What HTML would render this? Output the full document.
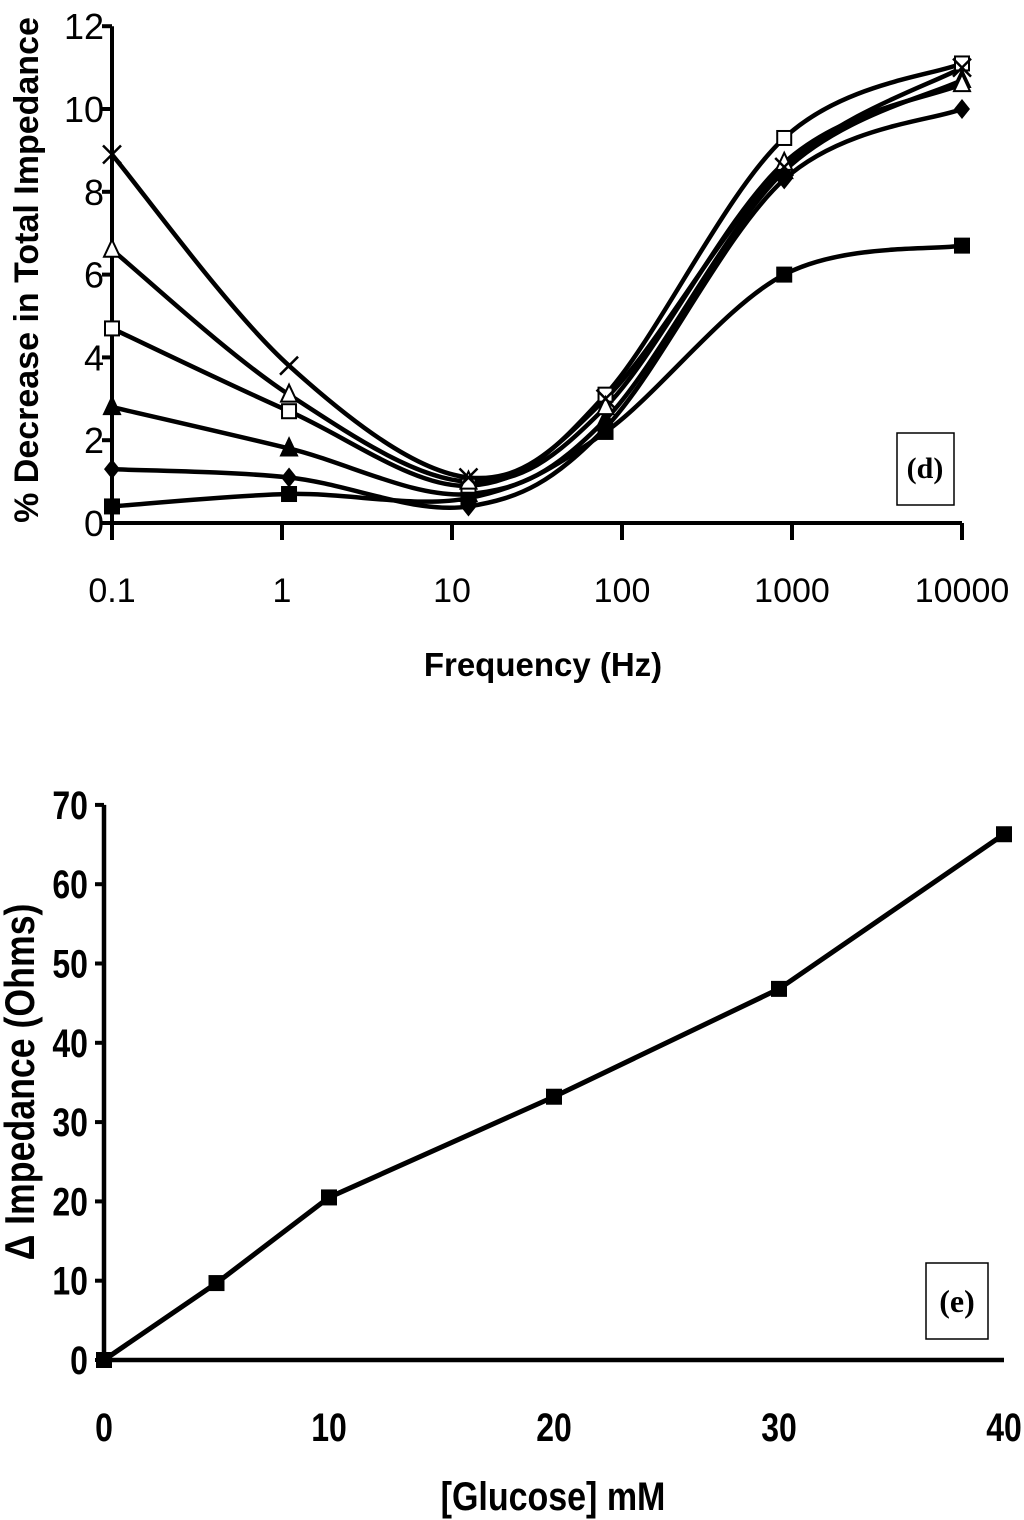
<!DOCTYPE html>
<html><head><meta charset="utf-8"><style>
html,body{margin:0;padding:0;background:#fff;}
svg{display:block;}
text{font-family:"Liberation Sans",sans-serif;fill:#000;}
</style></head><body>
<svg id="root" width="1024" height="1520" viewBox="0 0 1024 1520">
<g id="chartD"></g>
<g id="chartE"></g>
</svg>
<script>
const freqs = [0.1, 1.1, 12.5, 80, 900, 10000];
const seriesCross = [8.9, 3.8, 1.1, 3.0, 8.6, 11.0];
const seriesOpenTri = [6.6, 3.1, 1.0, 2.8, 8.7, 10.6];
const seriesOpenSq = [4.7, 2.7, 0.9, 3.1, 9.3, 11.1];
const seriesFillTri = [2.8, 1.8, 0.7, 2.5, 8.5, 10.7];
const seriesDiamond = [1.3, 1.1, 0.4, 2.3, 8.3, 10.0];
const seriesFillSq = [0.4, 0.7, 0.6, 2.2, 6.0, 6.7];
const yTicksD = [0, 2, 4, 6, 8, 10, 12];
const xTicksD = ["0.1", "1", "10", "100", "1000", "10000"];
const glucose = [0, 5, 10, 20, 30, 40];
const deltaZ = [0, 9.7, 20.5, 33.2, 46.8, 66.3];
const yTicksE = [0, 10, 20, 30, 40, 50, 60, 70];
const xTicksE = [0, 10, 20, 30, 40];

const NS = "http://www.w3.org/2000/svg";
function mk(parent, tag, attrs) {
  const e = document.createElementNS(NS, tag);
  for (const k in attrs) e.setAttribute(k, attrs[k]);
  parent.appendChild(e);
  return e;
}
function smooth(pts) {
  let d = "M" + pts[0][0] + "," + pts[0][1];
  for (let i = 0; i < pts.length - 1; i++) {
    const p0 = pts[i - 1] || pts[i], p1 = pts[i], p2 = pts[i + 1], p3 = pts[i + 2] || p2;
    const t = 1 / 6;
    d += " C" + (p1[0] + (p2[0] - p0[0]) * t) + "," + (p1[1] + (p2[1] - p0[1]) * t) + " " +
      (p2[0] - (p3[0] - p1[0]) * t) + "," + (p2[1] - (p3[1] - p1[1]) * t) + " " + p2[0] + "," + p2[1];
  }
  return d;
}
function marker(g, type, x, y) {
  let m;
  const s = 9;
  if (type === "cross") {
    m = mk(g, "path", {d: `M${x-s} ${y-s}L${x+s} ${y+s}M${x-s} ${y+s}L${x+s} ${y-s}`, stroke: "#000", "stroke-width": 2.5});
  } else if (type === "opentri" || type === "filltri") {
    m = mk(g, "polygon", {points: `${x},${y-10} ${x+8},${y+7} ${x-8},${y+7}`, fill: type === "opentri" ? "#fff" : "#000", stroke: "#000", "stroke-width": 2});
  } else if (type === "opensq" || type === "fillsq") {
    m = mk(g, "rect", {x: x-7, y: y-7, width: 14, height: 14, fill: type === "opensq" ? "#fff" : "#000", stroke: "#000", "stroke-width": 2});
  } else {
    m = mk(g, "polygon", {points: `${x},${y-10} ${x+8},${y} ${x},${y+10} ${x-8},${y}`, fill: "#000"});
  }
  
  
}

// chart d
(function(){
  const g = document.getElementById("chartD");
  const x0 = 112, dec = 170, yb = 523, ppu = 41.4;
  const X = f => x0 + (Math.log10(f) + 1) * dec;
  const Y = v => yb - v * ppu;
  const ya = mk(g, "line", {x1: x0, y1: Y(12), x2: x0, y2: 540, stroke: "#000", "stroke-width": 4});
   
  const xa = mk(g, "line", {x1: x0 - 10, y1: yb, x2: X(10000), y2: yb, stroke: "#000", "stroke-width": 4});
   
  yTicksD.forEach(v => {
    mk(g, "line", {x1: x0 - 10, y1: Y(v), x2: x0, y2: Y(v), stroke: "#000", "stroke-width": 4});
    const t = mk(g, "text", {x: x0 - 8, y: Y(v) + 13, "text-anchor": "end", "font-size": 36});
    t.textContent = v;
     
  });
  xTicksD.forEach((l, i) => {
    const x = x0 + i * dec;
    mk(g, "line", {x1: x, y1: yb, x2: x, y2: 540, stroke: "#000", "stroke-width": 4});
    const t = mk(g, "text", {x: x, y: 602, "text-anchor": "middle", "font-size": 34});
    t.textContent = l;
     
  });
  const series = [[seriesFillSq, "fillsq"], [seriesDiamond, "diamond"], [seriesFillTri, "filltri"], [seriesOpenSq, "opensq"], [seriesOpenTri, "opentri"], [seriesCross, "cross"]];
  series.forEach(([vals, type]) => {
    const pts = vals.map((v, i) => [X(freqs[i]), Y(v)]);
    const p = mk(g, "path", {d: smooth(pts), fill: "none", stroke: "#000", "stroke-width": 4.5});
     
  });
  series.forEach(([vals, type]) => vals.forEach((v, i) => marker(g, type, X(freqs[i]), Y(v))));
  const yt = mk(g, "text", {transform: "translate(38,270) rotate(-90)", "text-anchor": "middle", "font-size": 34, "font-weight": "bold"});
  yt.textContent = "% Decrease in Total Impedance";
   
  const xt = mk(g, "text", {x: 543, y: 676, "text-anchor": "middle", "font-size": 33, "font-weight": "bold"});
  xt.textContent = "Frequency (Hz)";
   
  const b = mk(g, "rect", {x: 897, y: 433, width: 57, height: 72, fill: "#fff", stroke: "#000", "stroke-width": 1.5});
   
  const bl = mk(g, "text", {x: 925, y: 478, "text-anchor": "middle", "font-size": 30, "font-weight": "bold", style: "font-family:'Liberation Serif',serif"});
  bl.textContent = "(d)";
   
})();

// chart e
(function(){
  const g = document.getElementById("chartE");
  const x0 = 104, ppx = 22.5, yb = 1360, ppu = 7.93;
  const X = v => x0 + v * ppx;
  const Y = v => yb - v * ppu;
  const ya = mk(g, "line", {x1: x0, y1: Y(70), x2: x0, y2: yb, stroke: "#000", "stroke-width": 4.5});
   
  const xa = mk(g, "line", {x1: x0, y1: yb, x2: X(40), y2: yb, stroke: "#000", "stroke-width": 4.5});
   
  yTicksE.forEach(v => {
    mk(g, "line", {x1: x0 - 9, y1: Y(v), x2: x0, y2: Y(v), stroke: "#000", "stroke-width": 4});
    const t = mk(g, "text", {x: x0 - 16, y: Y(v) + 14, "text-anchor": "end", "font-size": 40, "font-weight": "bold", transform: `translate(${(x0-16)*0.2},0) scale(0.8,1)`});
    t.textContent = v;
     
  });
  xTicksE.forEach(v => {
    const t = mk(g, "text", {x: X(v), y: 1441, "text-anchor": "middle", "font-size": 40, "font-weight": "bold", transform: `translate(${X(v)*0.2},0) scale(0.8,1)`});
    t.textContent = v;
     
  });
  const pts = glucose.map((v, i) => [X(v), Y(deltaZ[i])]);
  const p = mk(g, "polyline", {points: pts.map(p => p.join(",")).join(" "), fill: "none", stroke: "#000", "stroke-width": 5});
   
  pts.forEach(([x, y]) => marker(g, "fillsq", x, y));
  const yt = mk(g, "text", {transform: "translate(34,1082) rotate(-90) scale(0.85,1)", "text-anchor": "middle", "font-size": 42, "font-weight": "bold"});
  yt.textContent = "Δ Impedance  (Ohms)";
   
  const xt = mk(g, "text", {transform: "translate(553,1510) scale(0.85,1)", "text-anchor": "middle", "font-size": 40, "font-weight": "bold"});
  xt.textContent = "[Glucose] mM";
   
  const b = mk(g, "rect", {x: 926, y: 1263, width: 62, height: 76, fill: "#fff", stroke: "#000", "stroke-width": 1.5});
   
  const bl = mk(g, "text", {x: 957, y: 1312, "text-anchor": "middle", "font-size": 32, "font-weight": "bold", style: "font-family:'Liberation Serif',serif"});
  bl.textContent = "(e)";
   
})();
</script>
</body></html>
